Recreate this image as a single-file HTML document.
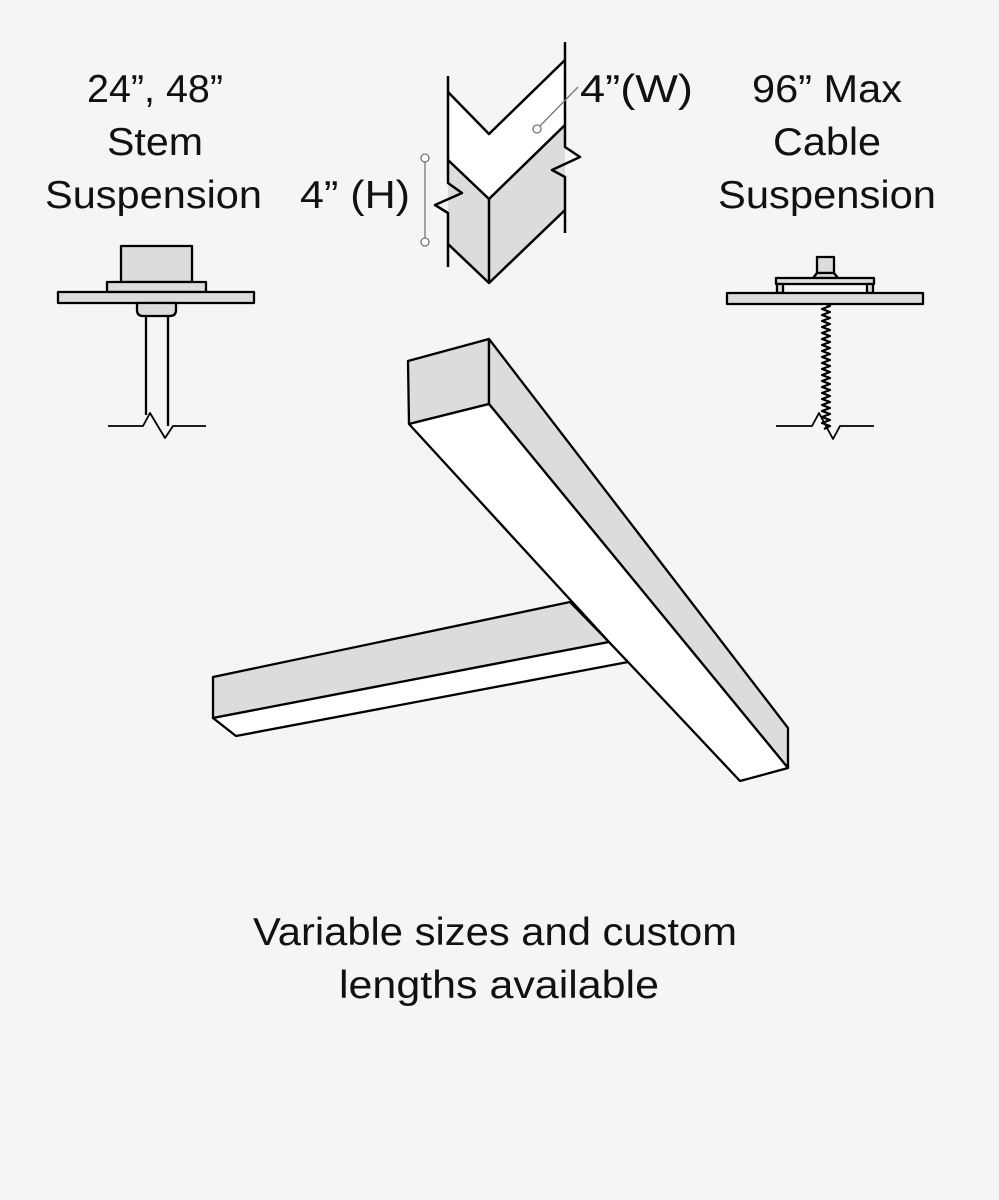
<!DOCTYPE html>
<html><head><meta charset="utf-8"><style>
html,body{margin:0;padding:0;background:#f5f5f5;}
svg{display:block}
text{font-family:"Liberation Sans",sans-serif;fill:#111;}
</style></head><body>
<svg width="999" height="1200" viewBox="0 0 999 1200" xmlns="http://www.w3.org/2000/svg">
<rect width="999" height="1200" fill="#f5f5f5"/>
<g font-size="39">
<text x="155" y="102" text-anchor="middle" textLength="136" lengthAdjust="spacingAndGlyphs">24”, 48”</text>
<text x="155" y="155" text-anchor="middle" textLength="96" lengthAdjust="spacingAndGlyphs">Stem</text>
<text x="45" y="208" textLength="217" lengthAdjust="spacingAndGlyphs">Suspension</text>
<text x="300" y="208" textLength="110" lengthAdjust="spacingAndGlyphs">4”  (H)</text>
<text x="580" y="102" textLength="113" lengthAdjust="spacingAndGlyphs">4”(W)</text>
<text x="827" y="102" text-anchor="middle" textLength="150" lengthAdjust="spacingAndGlyphs">96” Max</text>
<text x="827" y="155" text-anchor="middle" textLength="108" lengthAdjust="spacingAndGlyphs">Cable</text>
<text x="718" y="208" textLength="218" lengthAdjust="spacingAndGlyphs">Suspension</text>
<text x="495" y="945" text-anchor="middle" textLength="484" lengthAdjust="spacingAndGlyphs">Variable sizes and custom</text>
<text x="499" y="998" text-anchor="middle" textLength="320" lengthAdjust="spacingAndGlyphs">lengths available</text>
</g>
<g stroke="#000" stroke-width="2.5" stroke-linejoin="round" fill="none">
<!-- profile -->
<polygon points="448,92 489,134 565,60 565,125 489,199 448,160" fill="#fff" stroke="none"/>
<polygon points="448,160 489,199 565,125 565,210 489,283 448,244" fill="#dcdcdc" stroke="none"/>
<polyline points="448,92 489,134 565,60"/>
<polyline points="448,160 489,199 565,125"/>
<polyline points="448,244 489,283 565,210"/>
<line x1="489" y1="199" x2="489" y2="283"/>
<polyline points="448,76 448,183 462,193 435,205 448,213 448,267"/>
<polyline points="565,42 565,147 580,157 552,170 565,177 565,233"/>
</g>
<g stroke="#777" stroke-width="1.3" fill="#fff">
<line x1="425" y1="162" x2="425" y2="238"/>
<circle cx="425" cy="158" r="4"/>
<circle cx="425" cy="242" r="4"/>
<line x1="540" y1="126" x2="578" y2="87"/>
<circle cx="537" cy="129" r="4"/>
</g>
<!-- stem suspension -->
<g stroke="#000" stroke-width="2.3" stroke-linejoin="round">
<rect x="121" y="246" width="71" height="36" fill="#dcdcdc"/>
<rect x="107" y="282" width="99" height="10" fill="#dcdcdc"/>
<rect x="58" y="292" width="196" height="11" fill="#dcdcdc"/>
<path d="M137,303 H176 V310 Q176,316 170,316 H143 Q137,316 137,310 Z" fill="#dcdcdc"/>
<path d="M146,316 V415 M168,316 V426" fill="none"/>
<polyline points="108,426 143,426 150,413 165,438 173,426 206,426" fill="none" stroke-width="1.8"/>
</g>
<!-- cable suspension -->
<g stroke="#000" stroke-width="2.3" stroke-linejoin="round">
<rect x="817" y="257" width="17" height="16" fill="#dcdcdc"/>
<polygon points="817,273 834,273 838,278 813,278" fill="#dcdcdc"/>
<rect x="776" y="278" width="98" height="6" fill="#dcdcdc"/>
<rect x="777" y="284" width="6" height="9" fill="#dcdcdc"/>
<rect x="867" y="284" width="6" height="9" fill="#dcdcdc"/>
<rect x="727" y="293" width="196" height="11" fill="#dcdcdc"/>
<path d="M826,304 l4,2 l-8,3 l8,3 l-8,3 l8,3 l-8,3 l8,3 l-8,3 l8,3 l-8,3 l8,3 l-8,3 l8,3 l-8,3 l8,3 l-8,3 l8,3 l-8,3 l8,3 l-8,3 l8,3 l-8,3 l8,3 l-8,3 l8,3 l-8,3 l8,3 l-8,3 l8,3 l-8,3 l8,3 l-8,3 l8,3 l-8,3 l8,3 l-8,3 l8,3 l-8,3 l8,3 l-8,3 l8,3 l-6,3" fill="none" stroke-width="2.2"/>
<polyline points="776,426 812,426 819,413 833,439 840,426 874,426" fill="none" stroke-width="1.8"/>
</g>
<!-- T fixture -->
<g stroke="#000" stroke-width="2.3" stroke-linejoin="round">
<polygon points="213,677 570,602 609,642 213,718" fill="#dcdcdc"/>
<polygon points="213,718 609,642 628,662 236,736" fill="#fff"/>
<polygon points="408,361 489,339 489,404 409,424" fill="#dcdcdc"/>
<polygon points="489,339 788,728 788,768 489,404" fill="#dcdcdc"/>
<polygon points="409,424 489,404 788,768 740,781 628,662 609,642" fill="#fff"/>
</g>
</svg>
</body></html>
